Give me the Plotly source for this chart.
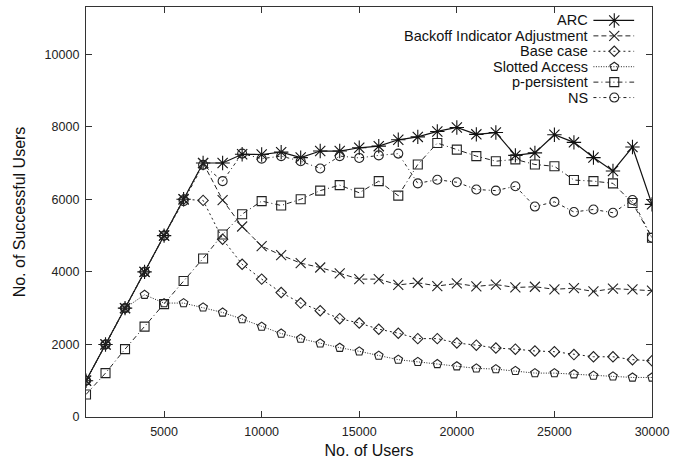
import plotly.graph_objects as go

users = [1000, 2000, 3000, 4000, 5000, 6000, 7000, 8000, 9000, 10000,
         11000, 12000, 13000, 14000, 15000, 16000, 17000, 18000, 19000, 20000,
         21000, 22000, 23000, 24000, 25000, 26000, 27000, 28000, 29000, 30000]

arc = [1000, 2000, 3000, 4000, 5000, 6000, 7000, 7000, 7240, 7235,
       7300, 7150, 7330, 7330, 7420, 7465, 7640, 7720, 7870, 7980,
       7790, 7840, 7210, 7280, 7780, 7570, 7150, 6780, 7440, 5860]

bia = [1000, 2000, 3000, 4000, 5000, 6000, 7000, 5980, 5250, 4710,
       4460, 4240, 4120, 3960, 3800, 3800, 3640, 3700, 3610, 3680,
       3600, 3650, 3570, 3590, 3520, 3550, 3460, 3540, 3520, 3480]

base_case = [1000, 2000, 3000, 4000, 5000, 6000, 5970, 4900, 4210, 3800,
             3430, 3140, 2930, 2710, 2590, 2420, 2310, 2160, 2160, 2040,
             1980, 1900, 1870, 1820, 1800, 1720, 1660, 1660, 1580, 1550]

slotted = [1000, 2000, 3000, 3370, 3140, 3140, 3020, 2880, 2700, 2490,
           2300, 2160, 2030, 1910, 1810, 1690, 1580, 1520, 1460, 1400,
           1340, 1320, 1270, 1210, 1210, 1180, 1140, 1120, 1090, 1090]

p_persistent = [620, 1210, 1870, 2490, 3110, 3750, 4370, 5030, 5590, 5950,
                5830, 6000, 6240, 6390, 6180, 6500, 6100, 6960, 7550, 7370,
                7190, 7050, 7100, 6960, 6910, 6530, 6500, 6440, 5900, 4940]

ns = [1000, 2000, 3000, 4000, 5000, 5950, 6950, 6500, 7260, 7120,
      7190, 7050, 6850, 7190, 7140, 7210, 7260, 6440, 6540, 6470,
      6270, 6240, 6360, 5800, 5930, 5650, 5720, 5630, 5980, 4940]

series_names = ["ARC", "Backoff Indicator Adjustment", "Base case",
                "Slotted Access", "p-persistent", "NS"]
series_values = [arc, bia, base_case, slotted, p_persistent, ns]

x_ticks = [5000, 10000, 15000, 20000, 25000, 30000]
y_ticks = [0, 2000, 4000, 6000, 8000, 10000]

FONT = "Liberation Sans, Arial, sans-serif"

styles = [
    dict(dash="solid", symbol="asterisk-open", size=12, color="#111111", width=1.2),
    dict(dash="5px,3px", symbol="x-thin-open", size=10, color="#222222", width=1),
    dict(dash="2px,3px", symbol="diamond-open", size=8, color="#222222", width=1),
    dict(dash="1px,1.5px", symbol="pentagon-open", size=9, color="#222222", width=1),
    dict(dash="5px,3px,1px,3px", symbol="square-open", size=9, color="#222222", width=1),
    dict(dash="3px,3px,1px,3px", symbol="circle-open", size=9, color="#222222", width=1),
]

fig = go.Figure()

for name, vals, st in zip(series_names, series_values, styles):
    fig.add_trace(go.Scatter(
        x=users, y=vals, name=name, mode="lines+markers", showlegend=False,
        line=dict(color=st["color"], width=st["width"], dash=st["dash"]),
        marker=dict(symbol=st["symbol"], size=st["size"],
                    line=dict(color=st["color"], width=1.1), color=st["color"]),
        xaxis="x", yaxis="y"))

# gnuplot-style key: text right-aligned, line sample to the right
key_x0, key_x1, key_xm = 597, 638, 618
for i, (name, st) in enumerate(zip(series_names, styles)):
    ry = 19.5 + 15.5 * i
    fig.add_trace(go.Scatter(
        x=[key_x0, key_x1], y=[ry, ry], mode="lines", showlegend=False,
        hoverinfo="skip",
        line=dict(color=st["color"], width=st["width"], dash=st["dash"]),
        xaxis="x2", yaxis="y2"))
    fig.add_trace(go.Scatter(
        x=[key_xm], y=[ry], mode="markers", showlegend=False, hoverinfo="skip",
        marker=dict(symbol=st["symbol"], size=st["size"],
                    line=dict(color=st["color"], width=1.1), color=st["color"]),
        xaxis="x2", yaxis="y2"))
    fig.add_annotation(x=593, y=ry, xref="x2", yref="y2", text=name,
                       showarrow=False, xanchor="right", yanchor="middle",
                       borderpad=0,
                       font=dict(size=14.5, color="#111111", family=FONT))

axis_common = dict(showline=True, linecolor="#333333", linewidth=1.3,
                   mirror="ticks", ticks="inside", ticklen=6, tickcolor="#333333",
                   showgrid=False, zeroline=False,
                   tickfont=dict(size=12.5, color="#222222", family=FONT))

fig.update_layout(
    width=675, height=462,
    margin=dict(l=86, r=19, t=6, b=44),
    paper_bgcolor="white", plot_bgcolor="white",
    font=dict(family=FONT, color="#111111"),
    xaxis=dict(range=[1000, 30000], tickvals=x_ticks,
               ticktext=[str(v) for v in x_ticks],
               ticklabelstandoff=3,
               title=dict(text="No. of Users", standoff=6,
                          font=dict(size=16)),
               **axis_common),
    yaxis=dict(range=[0, 11300], tickvals=y_ticks,
               ticktext=[str(v) for v in y_ticks],
               ticklabelstandoff=3,
               title=dict(text="No. of Successful Users", standoff=14,
                          font=dict(size=16)),
               **axis_common),
    xaxis2=dict(range=[86, 656], overlaying="x", visible=False, domain=[0, 1]),
    yaxis2=dict(range=[418, 6], overlaying="y", visible=False),
)

fig.write_html("out.html", config={"displayModeBar": False},
               post_script="document.body.style.margin='0';document.body.style.padding='0';")
